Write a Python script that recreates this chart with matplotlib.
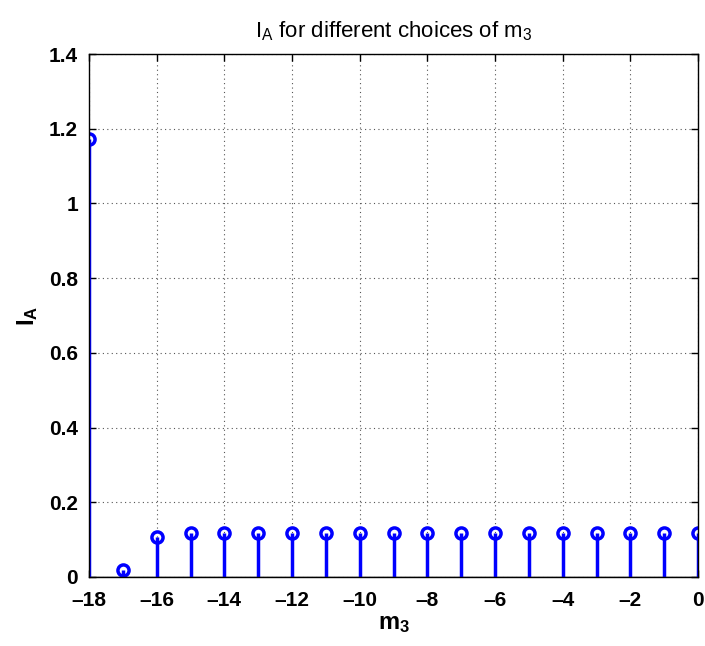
import matplotlib
matplotlib.use("Agg")
import matplotlib.pyplot as plt
import numpy as np

m3 = [-18, -17, -16, -15, -14, -13, -12, -11, -10, -9, -8, -7, -6, -5, -4, -3, -2, -1, 0]
IA = [1.172, 0.019, 0.106, 0.118, 0.119, 0.119, 0.119, 0.119, 0.119, 0.119, 0.119,
      0.119, 0.119, 0.119, 0.119, 0.119, 0.119, 0.119, 0.119]
xticks = [-18, -16, -14, -12, -10, -8, -6, -4, -2, 0]
yticks = [0, 0.2, 0.4, 0.6, 0.8, 1, 1.2, 1.4]
yticklabels = ["0", "0.2", "0.4", "0.6", "0.8", "1", "1.2", "1.4"]

plt.rcParams['font.family'] = ['Liberation Sans', 'DejaVu Sans']
plt.rcParams['mathtext.fontset'] = 'custom'
plt.rcParams['mathtext.rm'] = 'Liberation Sans'
plt.rcParams['mathtext.bf'] = 'Liberation Sans:bold'
fig = plt.figure(figsize=(7.05, 6.46), dpi=100)
ax = fig.add_axes([89/705, 1-577/646, (698-89)/705, (577-54)/646])

ml, sl, bl = ax.stem(m3, IA, basefmt=' ')
plt.setp(sl, color='#0000ff', linewidth=2.5)
plt.setp(ml, color='#0000ff', marker='o', markerfacecolor='none', markersize=8, markeredgewidth=2.5)
ax.axhline(0, color='k', linewidth=1, zorder=0)

ax.set_xlim(-18, 0)
ax.set_ylim(0, 1.4)
ax.set_xticks(xticks)
ax.set_xticklabels(['\u2013' + str(-t) if t < 0 else str(t) for t in xticks])
ax.set_yticks(yticks)
ax.set_yticklabels(yticklabels)
ax.grid(True, linestyle=(0, (1, 3)), color='#555555', linewidth=0.8)
ax.tick_params(direction='in', length=5, labelsize=15, width=1, top=True, right=True)
ax.tick_params(axis='x', pad=10)
ax.tick_params(axis='y', pad=8)
for lab in ax.get_xticklabels() + ax.get_yticklabels():
    lab.set_fontweight('bold')
for s in ax.spines.values():
    s.set_linewidth(1)

ax.set_xlabel('$\\mathbf{m_3}$', fontsize=17, labelpad=2)
ax.set_ylabel('$\\mathbf{I_A}$', fontsize=17, labelpad=6)
ax.set_title('$\\mathregular{I_A}$ for different choices of $\\mathregular{m_3}$', fontsize=16, pad=12)

fig.savefig('out.png', dpi=100)
